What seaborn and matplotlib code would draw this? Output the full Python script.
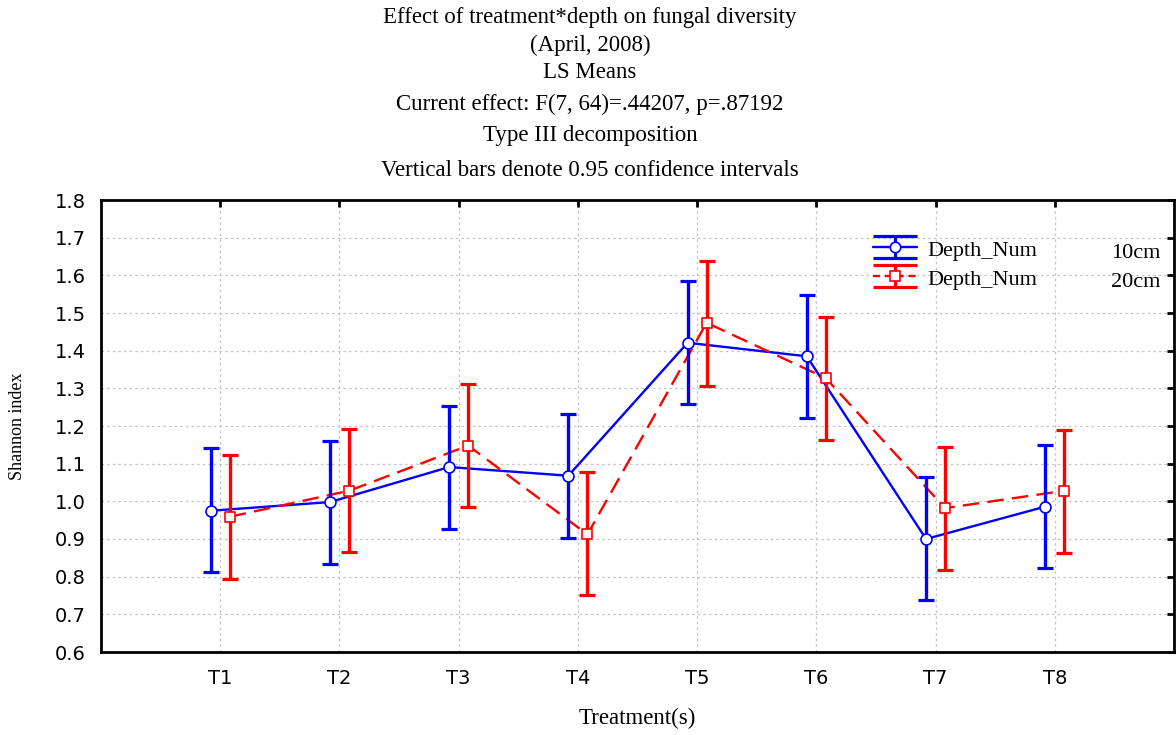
import numpy as np
import pandas as pd
import matplotlib
matplotlib.use("Agg")
import matplotlib.pyplot as plt
import seaborn as sns
from matplotlib.lines import Line2D
from matplotlib.path import Path
from matplotlib.legend_handler import HandlerTuple

# LS means and 95% confidence limits of the Shannon index per treatment
treatments = ["T1", "T2", "T3", "T4", "T5", "T6", "T7", "T8"]
mean_10cm = [0.975, 0.998, 1.091, 1.068, 1.421, 1.385, 0.900, 0.986]
low_10cm = [0.813, 0.833, 0.926, 0.903, 1.258, 1.220, 0.738, 0.822]
high_10cm = [1.141, 1.161, 1.254, 1.233, 1.586, 1.547, 1.065, 1.150]
mean_20cm = [0.959, 1.028, 1.148, 0.912, 1.474, 1.327, 0.982, 1.028]
low_20cm = [0.793, 0.866, 0.985, 0.751, 1.305, 1.163, 0.817, 0.862]
high_20cm = [1.123, 1.193, 1.312, 1.078, 1.637, 1.490, 1.145, 1.190]
depth_labels = ["10cm", "20cm"]
y_ticks = [0.6, 0.7, 0.8, 0.9, 1.0, 1.1, 1.2, 1.3, 1.4, 1.5, 1.6, 1.7, 1.8]

title_lines = [
    "Effect of treatment*depth on fungal diversity",
    "(April, 2008)",
    "LS Means",
    "Current effect: F(7, 64)=.44207, p=.87192",
    "Type III decomposition",
    "Vertical bars denote 0.95 confidence intervals",
]

sns.set_style("white")
plt.rcParams.update({
    "text.color": "black",
    "axes.labelcolor": "black",
    "xtick.color": "black",
    "ytick.color": "black",
})
SERIF = ["Liberation Serif", "DejaVu Serif"]
SANS = ["DejaVu Sans"]

BLUE = "#0000ff"
RED = "#ff0000"

W, H = 1176, 735
fig = plt.figure(figsize=(W / 100, H / 100), dpi=100)
ax = fig.add_axes([101 / W, 1 - 652 / H, (1174 - 101) / W, (652 - 200) / H])

pos = np.arange(len(treatments))
dodge = 0.08

series = [
    dict(mean=mean_10cm, low=low_10cm, high=high_10cm, color=BLUE, shift=-dodge,
         marker="o", dashes=None),
    dict(mean=mean_20cm, low=low_20cm, high=high_20cm, color=RED, shift=+dodge,
         marker="s", dashes=(7, 3.5)),
]

for s in series:
    x = pos + s["shift"]
    m = np.asarray(s["mean"])
    df = pd.DataFrame({"x": x, "y": m})
    sns.lineplot(data=df, x="x", y="y", ax=ax, sort=False,
                 color=s["color"], lw=1.7, zorder=2)
    ln = ax.lines[-1]
    if s["dashes"] is not None:
        ln.set_dashes(s["dashes"])
    ax.errorbar(x, m, yerr=[m - np.asarray(s["low"]), np.asarray(s["high"]) - m],
                fmt="none", ecolor=s["color"], elinewidth=2.4, capsize=5.5,
                capthick=2.3, zorder=3)
    sns.scatterplot(data=df, x="x", y="y", ax=ax, marker=s["marker"], s=62,
                    facecolor="white", edgecolor=s["color"], linewidth=1.2,
                    zorder=4, legend=False)

ax.set_xlim(-1, len(treatments))
ax.set_ylim(0.6, 1.8)
ax.set_xticks(pos)
ax.set_xticklabels(treatments, fontfamily=SANS, fontsize=14)
ax.set_yticks(y_ticks)
ax.set_yticklabels([f"{v:.1f}" for v in y_ticks], fontfamily=SANS, fontsize=14)
ax.tick_params(direction="in", length=5, width=2, top=True, right=True,
               labeltop=False, labelright=False, pad=11)
ax.tick_params(axis="x", pad=12)
for sp in ax.spines.values():
    sp.set_linewidth(2)
    sp.set_color("black")
ax.grid(True, color="#c4c4c4", linestyle=(0, (2, 2.5)), linewidth=0.9)
ax.set_axisbelow(True)
ax.set_xlabel("")
ax.set_ylabel("")

fig.text(637.5 / W, 1 - 718 / H, "Treatment(s)", family=SERIF, fontsize=16.5,
         ha="center", va="center")
fig.text(18 / W, 1 - 426 / H, "Shannon index", family=SERIF, fontsize=13,
         ha="center", va="center", rotation=90)

title_y = [17, 45, 72, 104, 136, 170]
for txt, yy in zip(title_lines, title_y):
    fig.text(590 / W, 1 - yy / H, txt, family=SERIF, fontsize=16.5,
             ha="center", va="center")

# legend: errorbar-style handle (wide caps + stem) overlaid with line and marker
cap_path = Path([(-1, 0.5), (1, 0.5), (-1, -0.5), (1, -0.5), (0, 0.5), (0, -0.5)],
                [Path.MOVETO, Path.LINETO, Path.MOVETO, Path.LINETO,
                 Path.MOVETO, Path.LINETO])
handles = []
for s in series:
    caps = Line2D([], [], ls="none", marker=cap_path, markersize=31.7,
                  markeredgewidth=2.3, markerfacecolor="none",
                  markeredgecolor=s["color"])
    main = Line2D([], [], color=s["color"], lw=1.7, marker=s["marker"],
                  markersize=7.5, markerfacecolor="white",
                  markeredgecolor=s["color"], markeredgewidth=1.2)
    if s["dashes"] is not None:
        main.set_dashes((3, 2))
    handles.append((caps, main))

fs_leg = 16
px_per_em = fs_leg * 100 / 72
leg = ax.legend(handles, ["Depth_Num", "Depth_Num"], numpoints=1,
                handler_map={tuple: HandlerTuple(ndivide=1)},
                prop={"family": SERIF, "size": fs_leg}, frameon=False,
                handlelength=44 / px_per_em, handleheight=1.0,
                handletextpad=10 / px_per_em, labelspacing=0.3,
                borderpad=0, borderaxespad=0,
                loc="upper left",
                bbox_transform=fig.transFigure,
                bbox_to_anchor=(873 / W, 1 - 238 / H))

fig.canvas.draw()
for t, lab in zip(leg.get_texts(), depth_labels):
    bb = t.get_window_extent()
    fig.text(1160 / W, (bb.y0 + bb.y1) / 2 / H, lab, family=SERIF, fontsize=fs_leg,
             ha="right", va="center_baseline")

fig.savefig("out.png", dpi=100)
